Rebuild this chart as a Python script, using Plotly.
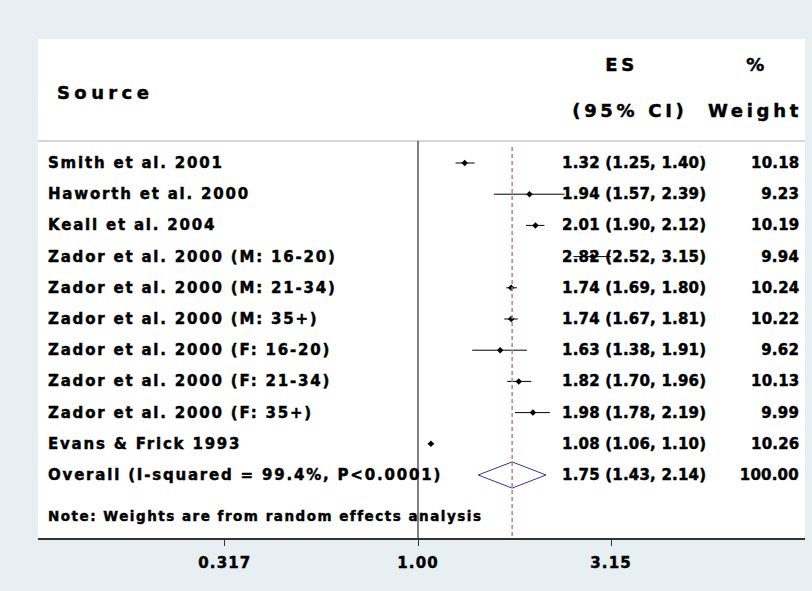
import plotly.graph_objects as go

# ---------------- data ----------------
studies = [
    "Smith et al. 2001",
    "Haworth et al. 2000",
    "Keall et al. 2004",
    "Zador et al. 2000 (M: 16-20)",
    "Zador et al. 2000 (M: 21-34)",
    "Zador et al. 2000 (M: 35+)",
    "Zador et al. 2000 (F: 16-20)",
    "Zador et al. 2000 (F: 21-34)",
    "Zador et al. 2000 (F: 35+)",
    "Evans & Frick 1993",
]
es = [1.32, 1.94, 2.01, 2.82, 1.74, 1.74, 1.63, 1.82, 1.98, 1.08]
ci_lo = [1.25, 1.57, 1.90, 2.52, 1.69, 1.67, 1.38, 1.70, 1.78, 1.06]
ci_hi = [1.40, 2.39, 2.12, 3.15, 1.80, 1.81, 1.91, 1.96, 2.19, 1.10]
weights = [10.18, 9.23, 10.19, 9.94, 10.24, 10.22, 9.62, 10.13, 9.99, 10.26]

overall_label = "Overall (I-squared = 99.4%, P<0.0001)"
overall_es = 1.75
overall_lo = 1.43
overall_hi = 2.14
overall_weight = 100.00

note_text = "Note: Weights are from random effects analysis"
tick_vals = [0.317, 1.00, 3.15]
tick_text = ["0.317", "1.00", "3.15"]

# ---------------- geometry helpers ----------------
W, H = 812, 591
L, R, T, B = 38, 7, 39, 53
PW = W - L - R
ROW0_PX, ROW_PX = 163.0, 31.2


def yd(px):
    return (px - ROW0_PX) / ROW_PX


def xp(px):
    return (px - L) / PW


rows = list(range(len(studies)))
overall_row = len(studies)

FONT = "DejaVu Sans, sans-serif"
BLACK = "#000000"

fig = go.Figure()

# study estimates with CIs
fig.add_trace(go.Scatter(
    x=es, y=rows, mode="markers",
    marker=dict(symbol="diamond", size=5, color=BLACK),
    error_x=dict(type="data", symmetric=False,
                 array=[h - e for h, e in zip(ci_hi, es)],
                 arrayminus=[e - l for e, l in zip(es, ci_lo)],
                 width=0, thickness=1, color=BLACK),
    showlegend=False, hoverinfo="skip",
))

# overall diamond
dh = 0.42
fig.add_trace(go.Scatter(
    x=[overall_lo, overall_es, overall_hi, overall_es, overall_lo],
    y=[overall_row, overall_row - dh, overall_row, overall_row + dh, overall_row],
    mode="lines", line=dict(color="#34349a", width=1),
    showlegend=False, hoverinfo="skip",
))

shapes = [
    # header separator
    dict(type="line", xref="paper", yref="y", x0=0, x1=1, y0=yd(141), y1=yd(141),
         line=dict(color="#c8c8c8", width=1.5)),
    # null line
    dict(type="line", xref="x", yref="y", x0=1, x1=1, y0=yd(141), y1=yd(538),
         line=dict(color=BLACK, width=1)),
    # overall effect line
    dict(type="line", xref="x", yref="y", x0=overall_es, x1=overall_es,
         y0=yd(147), y1=yd(538),
         line=dict(color="#c47a84", width=1.5, dash="4px,3px")),
]

annotations = []


def ann(text, x, y, size, anchor, spacing):
    annotations.append(dict(
        text="<b>%s</b>" % text, x=x, y=y, xref="paper", yref="y",
        xanchor=anchor, yanchor="middle", align=anchor,
        showarrow=False, borderpad=0, borderwidth=0,
        font=dict(family=FONT, size=size, color=BLACK),
        name="ls%s" % spacing,
    ))


# headers
HS, HSP = 18, 3.7
ann("Source", xp(57), yd(92), HS, "left", 4.4)
ann("ES", xp(621), yd(64), HS, "center", HSP)
ann("%", xp(757), yd(64), HS, "center", HSP)
ann("(95% CI)", xp(630), yd(110), HS, "center", HSP)
ann("Weight", xp(755), yd(110), HS, "center", HSP)

# rows
FS, LSP, NSP = 15, 1.8, 0.2
all_labels = studies + [overall_label]
all_es = es + [overall_es]
all_lo = ci_lo + [overall_lo]
all_hi = ci_hi + [overall_hi]
all_w = weights + [overall_weight]
for i, (lab, e, l, h, w) in enumerate(zip(all_labels, all_es, all_lo, all_hi, all_w)):
    ann(lab, xp(48), i, FS, "left", LSP)
    ann("%.2f (%.2f, %.2f)" % (e, l, h), xp(562), i, FS, "left", NSP)
    ann("%.2f" % w, xp(799.3), i, FS, "right", NSP)

ann(note_text, xp(48), yd(516), 13.5, "left", 1.5)

fig.update_layout(
    width=W, height=H,
    margin=dict(l=L, r=R, t=T, b=B, pad=0),
    paper_bgcolor="#e8eff2",
    plot_bgcolor="#ffffff",
    shapes=shapes,
    annotations=annotations,
    showlegend=False,
    xaxis=dict(
        type="log", range=[-0.9812, 0.9992],
        tickvals=tick_vals, ticktext=["<b>%s</b>" % t for t in tick_text],
        ticks="outside", ticklen=6, tickwidth=1, tickcolor="#333333",
        showline=True, linecolor="#333333", linewidth=1.5,
        showgrid=False, zeroline=False,
        tickfont=dict(family=FONT, size=15, color=BLACK),
        ticklabelstandoff=4, fixedrange=True,
    ),
    yaxis=dict(
        range=[yd(538), yd(39)], showgrid=False, zeroline=False,
        showticklabels=False, ticks="", showline=False, fixedrange=True,
    ),
)

post = """
var gd = document.getElementById('{plot_id}');
function applySpacing(){
  var anns = (gd.layout && gd.layout.annotations) || [];
  anns.forEach(function(a, i){
    var t = gd.querySelector('.annotation[data-index="' + i + '"] .annotation-text');
    if (t && a.name && a.name.indexOf('ls') === 0) {
      t.style.letterSpacing = a.name.slice(2) + 'px';
      t.style.stroke = '#000';
      t.style.strokeWidth = '0.45px';
    }
  });
  gd.querySelectorAll('.xtick text').forEach(function(t){
    t.style.letterSpacing = '1.1px';
    t.style.stroke = '#000';
    t.style.strokeWidth = '0.45px';
  });
}
applySpacing();
gd.on('plotly_afterplot', applySpacing);
"""

fig.write_html("out.html", post_script=post, config={"displayModeBar": False})
